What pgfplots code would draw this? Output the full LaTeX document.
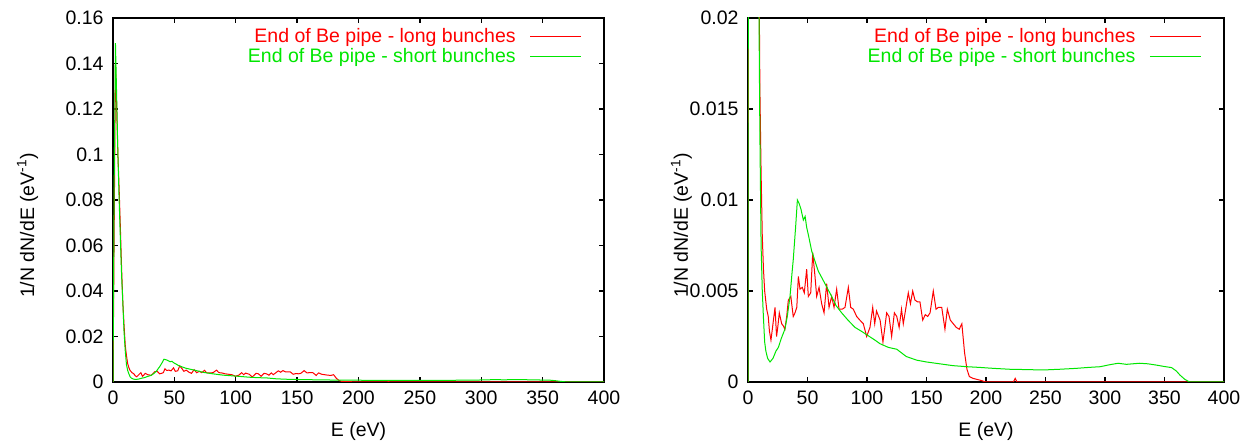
\documentclass[border=0pt]{standalone}
\usepackage{fontspec}
\setmainfont{Liberation Sans}
\usepackage{pgfplots}
\usepackage{pgfplotstable}
\pgfplotsset{compat=1.18}

\pgfplotstableread{
x y
0 0
1 0.07
2 0.140
3 0.12
4 0.10
5 0.085
6 0.068
7 0.05
8 0.035
9 0.025
10 0.016
11 0.0115
12 0.0080
13 0.0062
14 0.0050
15.7 0.0040
17 0.0036
18 0.0028
19.3 0.0023
21 0.0032
22.7 0.0041
24 0.0025
25 0.0030
26.3 0.0038
28.3 0.0032
29.5 0.0031
31 0.0029
32.5 0.0036
33.9 0.0045
36 0.0047
38 0.0036
39.5 0.0038
41 0.0041
42.3 0.0058
43.7 0.0051
45.6 0.0052
47.3 0.0049
49.3 0.0062
50.7 0.0047
52.7 0.0049
54.4 0.0071
56.3 0.0058
57.7 0.0047
59.7 0.0052
61.9 0.0043
63.9 0.0038
66.1 0.0054
68.1 0.0041
70.3 0.0047
72.3 0.0041
74.5 0.0051
76.5 0.0040
79.2 0.0040
81.5 0.0041
84.3 0.0052
86.3 0.0041
88.5 0.0040
91.3 0.0036
94 0.0034
96.9 0.0032
99.7 0.0025
102.5 0.0030
104.8 0.0041
106.5 0.0032
108 0.0039
111 0.0034
113.4 0.0022
115 0.0030
116.5 0.0038
118.5 0.0036
120.7 0.0025
123 0.0038
125 0.0036
127 0.0030
129 0.0040
130.5 0.0032
132.5 0.0040
134.7 0.0049
136.5 0.0043
138.4 0.0050
140.3 0.0045
142.5 0.0044
144.5 0.0044
146.8 0.0034
149 0.0037
151 0.0036
153 0.0038
155.7 0.0050
158 0.0040
160 0.0041
162.8 0.0041
165.5 0.0029
167.5 0.0040
170 0.0034
172.5 0.0032
175 0.0030
177.5 0.0029
179.7 0.0032
182 0.0016
184 0.0007
186 0.0003
189 0.0002
195 0.0001
200 0
223 0
224.5 0.0002
226 0
400 0
}\longdata

\pgfplotstableread{
x y
0 0
1 0.09
2 0.149
3 0.125
4 0.10
5 0.08
6 0.063
7 0.047
8 0.035
9 0.022
10 0.0135
11 0.0075
12 0.0050
13 0.0035
14 0.0022
15 0.0017
16.5 0.0013
18.5 0.0011
21 0.0013
23.5 0.0017
25.5 0.0019
28 0.0024
31 0.0029
33 0.0036
35.3 0.0047
37 0.0060
38 0.0067
40 0.0085
41.5 0.0100
43 0.0098
44.5 0.0095
46.5 0.0089
48 0.0091
49.3 0.0085
51 0.0080
53.5 0.0072
56 0.0067
59 0.0061
64.7 0.0054
70.3 0.0047
74 0.0042
78.7 0.0038
84 0.0034
89.9 0.0030
95 0.0028
99.7 0.0026
106.7 0.0023
111 0.0021
118 0.0019
125 0.0018
133 0.0014
141.7 0.0012
150 0.0011
161 0.0010
172 0.0009
184 0.00084
195 0.0008
206 0.00075
220 0.0007
235 0.00068
248 0.00066
262 0.0007
276 0.00075
286 0.0008
296 0.00084
304 0.00095
311 0.00103
318 0.00097
329 0.00103
336 0.0010
343 0.00093
350 0.00085
356 0.00079
360 0.0006
363 0.00038
367 0.00015
371 0
400 0
}\shortdata

\definecolor{gpred}{RGB}{255,0,0}
\definecolor{gpgreen}{RGB}{0,230,0}

\pgfplotsset{
  gp/.style={
    scale only axis,
    font=\fontsize{19.5}{23}\selectfont,
    /pgf/number format/assume math mode=true,
    xmin=0, xmax=400, ymin=0,
    xtick={0,50,...,400},
    scaled y ticks=false,
    yticklabel style={/pgf/number format/fixed, /pgf/number format/precision=3},
    tick align=inside,
    major tick length=5pt,
    every tick/.style={black, line width=1.3pt},
    axis line style={line width=1.5pt},
    xticklabel style={yshift=-5pt},
    yticklabel style={xshift=-6pt},
    xlabel={E (eV)},
    ylabel={1/N dN/dE (eV\textsuperscript{-1})},
    xlabel style={at={(axis description cs:0.5,-0.135)}, anchor=center},
    legend plot pos=right,
    legend cell align=right,
    legend style={draw=none, fill=none, anchor=north east, inner sep=0pt,
      row sep=0.5pt, font=\fontsize{19.5}{23}\selectfont},
  },
  redleg/.style={legend image code/.code={\draw[gpred, line width=1pt] (0pt,0pt) -- (51pt,0pt);}},
  greenleg/.style={legend image code/.code={\draw[gpgreen, line width=1pt] (0pt,0pt) -- (51pt,0pt);}},
}

\begin{document}
\begin{tikzpicture}
\path[use as bounding box] (0pt,0pt) rectangle (1253pt,443pt);

\begin{axis}[gp,
  at={(113pt,61pt)}, anchor=south west,
  width=491pt, height=364pt,
  ymax=0.16, ytick={0,0.02,...,0.16},
  ylabel style={at={(axis description cs:-0.174,0.43)}, anchor=center},
  legend style={at={(axis description cs:0.955,0.977)}},
]
\addplot[gpred, line width=1pt, redleg] table[x=x,y=y] {\longdata};
\addlegendentry{\textcolor{gpred}{End of Be pipe - long bunches}\hspace*{12pt}}
\addplot[gpgreen, line width=1pt, greenleg] table[x=x,y=y] {\shortdata};
\addlegendentry{\textcolor{gpgreen}{End of Be pipe - short bunches}\hspace*{12pt}}
\end{axis}

\begin{axis}[gp,
  at={(748pt,61pt)}, anchor=south west,
  width=476pt, height=364pt,
  ymax=0.02, ytick={0,0.005,0.01,0.015,0.02},
  ylabel style={at={(axis description cs:-0.14,0.43)}, anchor=center},
  legend style={at={(axis description cs:0.953,0.977)}},
]
\addplot[gpred, line width=1pt, redleg] table[x=x,y=y] {\longdata};
\addlegendentry{\textcolor{gpred}{End of Be pipe - long bunches}\hspace*{12pt}}
\addplot[gpgreen, line width=1pt, greenleg] table[x=x,y=y] {\shortdata};
\addlegendentry{\textcolor{gpgreen}{End of Be pipe - short bunches}\hspace*{12pt}}
\end{axis}
\end{tikzpicture}
\end{document}
